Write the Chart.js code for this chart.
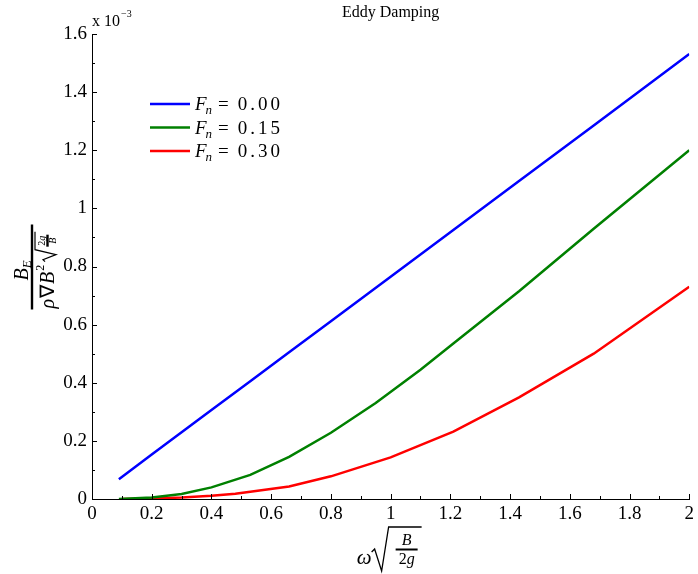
<!DOCTYPE html>
<html>
<head>
<meta charset="utf-8">
<script src="https://cdn.jsdelivr.net/npm/chart.js@4.4.1/dist/chart.umd.min.js"></script>
<style>
  html, body { margin: 0; padding: 0; background: #fff; }
  #wrap { width: 698px; height: 574px; }
</style>
</head>
<body>
<div id="wrap"><canvas id="eddyChart" width="698" height="574"></canvas></div>
<script>
// non-dimensional frequency  w*sqrt(B/2g)
const omegaBlue  = [0.09, 0.2, 0.3, 0.4, 0.53, 0.66, 0.8, 1.0, 1.21, 1.43, 1.68, 2.0];
const omegaGreen = [0.09, 0.2, 0.3, 0.4, 0.53, 0.66, 0.8, 0.95, 1.1, 1.21, 1.43, 1.68, 2.0];
const omegaRed   = [0.1, 0.2, 0.3, 0.4, 0.48, 0.53, 0.66, 0.8, 1.0, 1.21, 1.43, 1.68, 2.0];

// eddy damping coefficient (x 10^-3)
const dampFn000 = [0.068, 0.153, 0.230, 0.306, 0.405, 0.505, 0.612, 0.765, 0.926, 1.094, 1.285, 1.531];
const dampFn015 = [0.0, 0.005, 0.017, 0.040, 0.083, 0.145, 0.228, 0.330, 0.445, 0.535, 0.715, 0.930, 1.200];
const dampFn030 = [0.0, 0.002, 0.005, 0.011, 0.018, 0.025, 0.043, 0.078, 0.143, 0.232, 0.350, 0.500, 0.730];

const froudeLabels = ['0.00', '0.15', '0.30'];
const xTicks = [0, 0.2, 0.4, 0.6, 0.8, 1, 1.2, 1.4, 1.6, 1.8, 2];
const yTicks = [0, 0.2, 0.4, 0.6, 0.8, 1, 1.2, 1.4, 1.6];

const SERIF = '"Liberation Serif", "Times New Roman", serif';

function toPoints(xs, ys) {
    return xs.map((x, i) => ({ x: x, y: ys[i] }));
}

function fmt(v) {
    return String(Math.round(v * 10) / 10);
}

// inward major/minor ticks, title, math axis labels and legend
const decorations = {
    id: 'decorations',
    afterDraw(chart) {
        const ctx = chart.ctx;
        const xs = chart.scales.x, ys = chart.scales.y;
        const area = chart.chartArea;

        ctx.save();
        ctx.strokeStyle = '#000';
        ctx.lineWidth = 1;
        ctx.beginPath();
        for (let v = 0; v <= 2.0001; v += 0.1) {
            const px = Math.round(xs.getPixelForValue(v)) + 0.5;
            const len = Math.abs(Math.round(v * 10) % 2) === 0 ? 5 : 3;
            ctx.moveTo(px, area.bottom);
            ctx.lineTo(px, area.bottom - len);
        }
        for (let v = 0; v <= 1.6001; v += 0.1) {
            const py = Math.round(ys.getPixelForValue(v)) + 0.5;
            const len = Math.abs(Math.round(v * 10) % 2) === 0 ? 5 : 3;
            ctx.moveTo(area.left, py);
            ctx.lineTo(area.left + len, py);
        }
        ctx.stroke();

        ctx.fillStyle = '#000';
        // title
        ctx.font = '16px ' + SERIF;
        ctx.textAlign = 'center';
        ctx.textBaseline = 'alphabetic';
        ctx.fillText('Eddy Damping', (area.left + area.right) / 2, 17);

        // exponent marker
        ctx.textAlign = 'left';
        ctx.font = '16px ' + SERIF;
        ctx.fillText('x 10', area.left + 0, 26);
        const w10 = ctx.measureText('x 10').width;
        ctx.font = '10px ' + SERIF;
        ctx.fillText('\u22123', area.left + w10 + 1, 17);

        // x axis label: omega sqrt(B / 2g)
        const cx = (area.left + area.right) / 2;
        ctx.font = 'italic 21px ' + SERIF;
        ctx.textAlign = 'left';
        ctx.fillText('\u03c9', cx - 34, 564);
        ctx.beginPath();
        ctx.lineWidth = 1.3;
        ctx.moveTo(cx - 19, 552);
        ctx.lineTo(cx - 16, 549);
        ctx.lineTo(cx - 9, 571);
        ctx.lineTo(cx - 2, 527);
        ctx.lineTo(cx + 31, 527);
        ctx.stroke();
        ctx.lineWidth = 2;
        ctx.beginPath();
        ctx.moveTo(cx + 5, 549.5);
        ctx.lineTo(cx + 27, 549.5);
        ctx.stroke();
        ctx.textAlign = 'center';
        ctx.font = 'italic 16px ' + SERIF;
        ctx.fillText('B', cx + 16, 545);
        ctx.font = '16px ' + SERIF;
        const w2 = ctx.measureText('2').width;
        ctx.font = 'italic 16px ' + SERIF;
        const wg = ctx.measureText('g').width;
        const x0 = cx + 16 - (w2 + wg) / 2;
        ctx.textAlign = 'left';
        ctx.font = '16px ' + SERIF;
        ctx.fillText('2', x0, 564);
        ctx.font = 'italic 16px ' + SERIF;
        ctx.fillText('g', x0 + w2, 564);

        // y axis label: B_E / (rho nabla B^2 sqrt(2g/B)), rotated
        ctx.save();
        ctx.translate(32, (area.top + area.bottom) / 2);
        ctx.rotate(-Math.PI / 2);
        ctx.lineWidth = 2.4;
        ctx.beginPath();
        ctx.moveTo(-43, 0);
        ctx.lineTo(42, 0);
        ctx.stroke();
        // numerator
        ctx.font = 'italic 20px ' + SERIF;
        ctx.textAlign = 'left';
        ctx.fillText('B', -14, -4);
        const wB = ctx.measureText('B').width;
        ctx.font = 'italic 13px ' + SERIF;
        ctx.fillText('E', -14 + wB, -1);
        // denominator
        let dx = -42;
        ctx.font = 'italic 20px ' + SERIF;
        ctx.fillText('\u03c1', dx, 22);
        dx += ctx.measureText('\u03c1').width + 1;
        ctx.font = '20px ' + SERIF;
        ctx.fillText('\u2207', dx, 22);
        dx += ctx.measureText('\u2207').width + 1;
        ctx.font = 'italic 20px ' + SERIF;
        ctx.fillText('B', dx, 22);
        dx += ctx.measureText('B').width;
        ctx.font = '12px ' + SERIF;
        ctx.fillText('2', dx + 1, 12);
        dx += ctx.measureText('2').width + 4;
        // root sign
        ctx.lineWidth = 1.2;
        ctx.beginPath();
        ctx.moveTo(dx, 13);
        ctx.lineTo(dx + 2, 11);
        ctx.lineTo(dx + 7, 24);
        ctx.lineTo(dx + 12, 3);
        ctx.lineTo(dx + 30, 3);
        ctx.stroke();
        ctx.lineWidth = 2.4;
        ctx.beginPath();
        ctx.moveTo(dx + 15, 15.5);
        ctx.lineTo(dx + 27, 15.5);
        ctx.stroke();
        ctx.font = '10px ' + SERIF;
        const w2s = ctx.measureText('2').width;
        ctx.font = 'italic 10px ' + SERIF;
        const wgs = ctx.measureText('g').width;
        ctx.textAlign = 'left';
        const sx = dx + 21 - (w2s + wgs) / 2;
        ctx.font = '10px ' + SERIF;
        ctx.fillText('2', sx, 12.5);
        ctx.font = 'italic 10px ' + SERIF;
        ctx.fillText('g', sx + w2s, 12.5);
        ctx.textAlign = 'center';
        ctx.fillText('B', dx + 21, 24);
        ctx.restore();

        // legend
        const lx = 150, ly = 104, step = 23.5;
        chart.data.datasets.forEach((ds, i) => {
            const y = ly + i * step;
            ctx.strokeStyle = ds.borderColor;
            ctx.lineWidth = 2.5;
            ctx.beginPath();
            ctx.moveTo(lx, y);
            ctx.lineTo(lx + 40, y);
            ctx.stroke();
            ctx.fillStyle = '#000';
            ctx.textAlign = 'left';
            let tx = lx + 45;
            ctx.font = 'italic 19px ' + SERIF;
            ctx.fillText('F', tx, y + 6);
            tx += ctx.measureText('F').width - 1;
            ctx.font = 'italic 13px ' + SERIF;
            ctx.fillText('n', tx, y + 10);
            tx += ctx.measureText('n').width + 6;
            ctx.font = '19px ' + SERIF;
            ctx.fillText('=', tx, y + 6);
            tx += ctx.measureText('=').width + 9;
            for (const ch of froudeLabels[i]) {
                ctx.fillText(ch, tx, y + 6);
                tx += ctx.measureText(ch).width + 3;
            }
        });
        ctx.restore();
    }
};

const colors = ['#0000ff', '#008000', '#ff0000'];
const series = [
    toPoints(omegaBlue, dampFn000),
    toPoints(omegaGreen, dampFn015),
    toPoints(omegaRed, dampFn030)
];

const ctx = document.getElementById('eddyChart').getContext('2d');
const eddyChart = new Chart(ctx, {
    type: 'line',
    data: {
        datasets: series.map((pts, i) => ({
            label: 'Fn = ' + froudeLabels[i],
            data: pts,
            borderColor: colors[i],
            backgroundColor: colors[i],
            borderWidth: 2.5,
            pointRadius: 0,
            fill: false,
            tension: 0
        }))
    },
    options: {
        responsive: false,
        animation: false,
        layout: { padding: { left: 0, right: 8, top: 34, bottom: 0 } },
        plugins: {
            legend: { display: false },
            title: { display: false },
            tooltip: { enabled: false }
        },
        scales: {
            x: {
                type: 'linear',
                min: 0,
                max: 2,
                afterBuildTicks: s => { s.ticks = xTicks.map(v => ({ value: v })); },
                afterFit: s => { s.height = 75; },
                grid: { display: false, drawTicks: false },
                border: { display: true, color: '#000', width: 1 },
                ticks: {
                    color: '#000',
                    padding: 4,
                    maxRotation: 0,
                    font: { family: SERIF, size: 19 },
                    callback: v => fmt(v)
                }
            },
            y: {
                type: 'linear',
                min: 0,
                max: 1.6,
                afterBuildTicks: s => { s.ticks = yTicks.map(v => ({ value: v })); },
                afterFit: s => { s.width = 92; },
                grid: { display: false, drawTicks: false },
                border: { display: true, color: '#000', width: 1 },
                ticks: {
                    color: '#000',
                    padding: 5,
                    font: { family: SERIF, size: 19 },
                    callback: v => fmt(v)
                }
            }
        }
    },
    plugins: [decorations]
});
</script>
</body>
</html>
